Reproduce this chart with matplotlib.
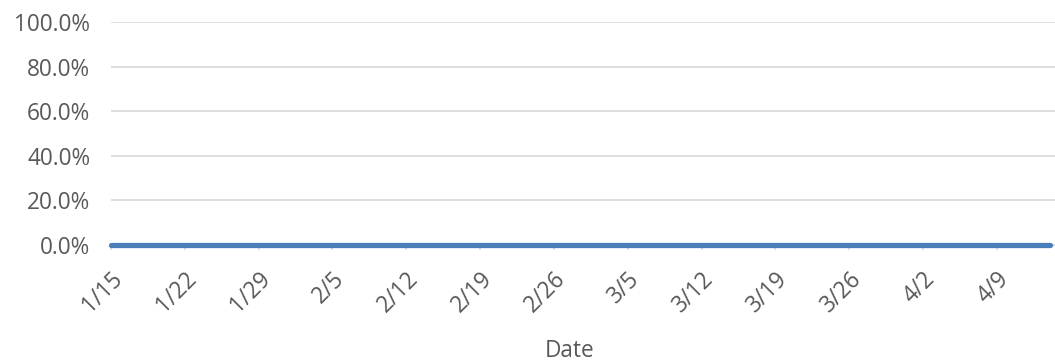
import numpy as np
import pandas as pd
import matplotlib
matplotlib.use("Agg")
import matplotlib.pyplot as plt
import matplotlib.transforms as mtransforms
from matplotlib.ticker import FuncFormatter

# datos: valor diario (todo en cero) del 1/15 al 4/14
dates = pd.date_range("2021-01-15", "2021-04-14", freq="D")
values = [0.0, 0.0, 0.0, 0.0, 0.0, 0.0, 0.0, 0.0, 0.0, 0.0, 0.0, 0.0, 0.0,
          0.0, 0.0, 0.0, 0.0, 0.0, 0.0, 0.0, 0.0, 0.0, 0.0, 0.0, 0.0, 0.0,
          0.0, 0.0, 0.0, 0.0, 0.0, 0.0, 0.0, 0.0, 0.0, 0.0, 0.0, 0.0, 0.0,
          0.0, 0.0, 0.0, 0.0, 0.0, 0.0, 0.0, 0.0, 0.0, 0.0, 0.0, 0.0, 0.0,
          0.0, 0.0, 0.0, 0.0, 0.0, 0.0, 0.0, 0.0, 0.0, 0.0, 0.0, 0.0, 0.0,
          0.0, 0.0, 0.0, 0.0, 0.0, 0.0, 0.0, 0.0, 0.0, 0.0, 0.0, 0.0, 0.0,
          0.0, 0.0, 0.0, 0.0, 0.0, 0.0, 0.0, 0.0, 0.0, 0.0, 0.0, 0.0]
tick_dates = pd.date_range("2021-01-15", "2021-04-09", freq="7D")
y_ticks = [0.0, 0.2, 0.4, 0.6, 0.8, 1.0]

gray = "#595959"
plt.rcParams['font.family'] = ['Open Sans', 'DejaVu Sans']
fs = 16.3

fig = plt.figure(figsize=(10.55, 3.62), dpi=100)
ax = fig.add_axes([111 / 1055, 1 - 245 / 362, 1 - 111 / 1055, (245 - 22) / 362])

ax.plot(dates[:len(values)], values, color="#4A7EBB", linewidth=3.8,
        solid_capstyle="round", clip_on=False, zorder=3)

ax.set_ylim(0, 1.0)
ax.set_yticks(y_ticks)
ax.yaxis.set_major_formatter(FuncFormatter(lambda v, p: f"{v * 100:.1f}%"))
ax.set_xlim(dates[0], dates[-1] + pd.Timedelta(days=0.5))
ax.set_xticks(tick_dates)
labels = ax.set_xticklabels([f"{d.month}/{d.day}" for d in tick_dates],
                            rotation=45, ha="right", va="top",
                            rotation_mode="anchor")
shift = mtransforms.ScaledTranslation(11 / 100, 0, fig.dpi_scale_trans)
for t in labels:
    t.set_transform(t.get_transform() + shift)

ax.grid(axis="y", color="#D9D9D9", linewidth=1.2)
ax.set_axisbelow(True)
for s in ["top", "right", "left"]:
    ax.spines[s].set_visible(False)
ax.spines["bottom"].set_color("#D9D9D9")

ax.tick_params(axis="y", length=0, pad=15, labelsize=fs, labelcolor=gray)
ax.tick_params(axis="x", length=3.6, width=1.2, color="#D9D9D9", pad=12,
               labelsize=fs, labelcolor=gray)

fig.text(570 / 1055, 1 - 351 / 362, "Date", fontsize=fs, color=gray,
         ha="center", va="center")

fig.savefig("out.png", dpi=100)
